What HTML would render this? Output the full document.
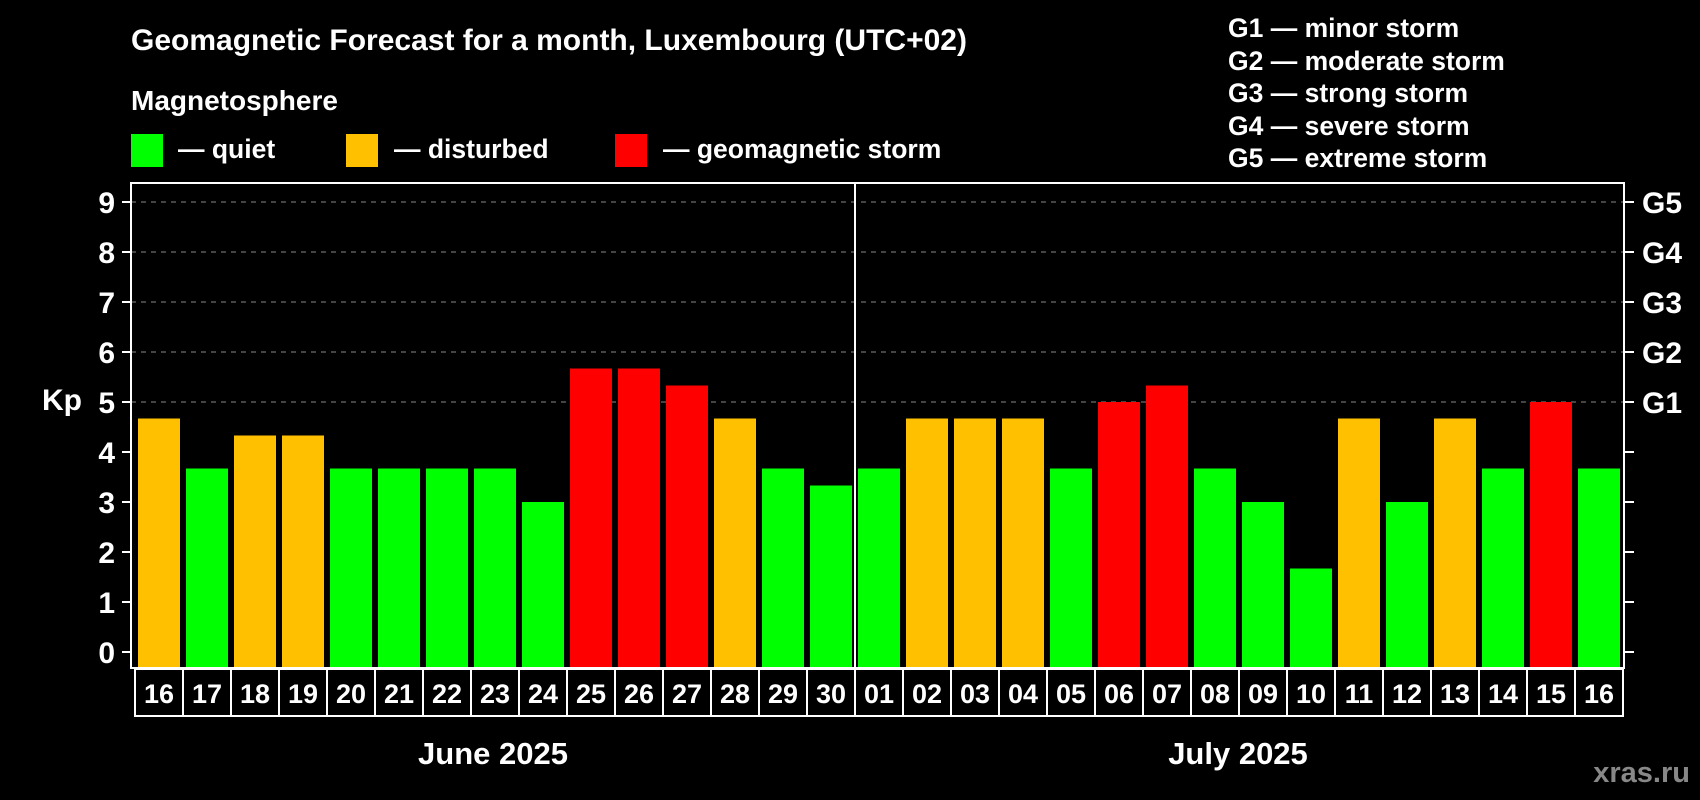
<!DOCTYPE html>
<html><head><meta charset="utf-8"><style>
html,body{margin:0;padding:0;background:#000;}
svg{display:block;font-family:"Liberation Sans",Arial,sans-serif;font-weight:bold;}
</style></head><body>
<svg id="chart" width="1700" height="800" viewBox="0 0 1700 800" xmlns="http://www.w3.org/2000/svg">
<rect width="1700" height="800" fill="#000"/>
<text x="131" y="50" fill="#fff" font-size="30">Geomagnetic Forecast for a month, Luxembourg (UTC+02)</text>
<text x="131" y="110" fill="#fff" font-size="28">Magnetosphere</text>
<g>
<rect x="131" y="134" width="32" height="33" fill="#00ff00"/>
<text x="178" y="158" fill="#fff" font-size="26.5">— quiet</text></g>
<g>
<rect x="346" y="134" width="32" height="33" fill="#ffc000"/>
<text x="394" y="158" fill="#fff" font-size="26.5">— disturbed</text></g>
<g>
<rect x="615" y="134" width="32" height="33" fill="#ff0000"/>
<text x="663" y="158" fill="#fff" font-size="26.5">— geomagnetic storm</text></g>
<g fill="#fff" font-size="26.5">
<text x="1228" y="37">G1 — minor storm</text>
<text x="1228" y="70">G2 — moderate storm</text>
<text x="1228" y="102">G3 — strong storm</text>
<text x="1228" y="135">G4 — severe storm</text>
<text x="1228" y="167">G5 — extreme storm</text>
</g>
<g id="grid"></g>
<g id="bars"></g>
<rect x="131" y="183" width="1493" height="485" fill="none" stroke="#fff" stroke-width="2"/>
<line x1="855" y1="183" x2="855" y2="668" stroke="#fff" stroke-width="2"/>
<g id="axes"></g>
<text x="42" y="410" fill="#fff" font-size="30">Kp</text>
<text x="493" y="764" fill="#fff" font-size="31" text-anchor="middle">June 2025</text>
<text x="1238" y="764" fill="#fff" font-size="31" text-anchor="middle">July 2025</text>
<text x="1690" y="782" fill="#888" font-size="29" text-anchor="end">xras.ru</text>
</svg>
<script>
const days = ["16","17","18","19","20","21","22","23","24","25","26","27","28","29","30","01","02","03","04","05","06","07","08","09","10","11","12","13","14","15","16"];
const kpValues = [4.67,3.67,4.33,4.33,3.67,3.67,3.67,3.67,3,5.67,5.67,5.33,4.67,3.67,3.33,3.67,4.67,4.67,4.67,3.67,5,5.33,3.67,3,1.67,4.67,3,4.67,3.67,5,3.67];
const yTicks = [0,1,2,3,4,5,6,7,8,9];
const gLabels = ["","","","","","G1","G2","G3","G4","G5"];

const NS="http://www.w3.org/2000/svg";
const x0=135, slot=48, y0=652, unit=50;
function xPos(i){return x0+i*slot;}
function yPos(v){return y0-v*unit;}
function color(v){return v>=5?"#ff0000":(v>=4?"#ffc000":"#00ff00");}
function mk(tag,attrs,parent){const e=document.createElementNS(NS,tag);for(const k in attrs)e.setAttribute(k,attrs[k]);parent.appendChild(e);return e;}
const grid=document.getElementById('grid'),bars=document.getElementById('bars'),axes=document.getElementById('axes');
yTicks.forEach((t,i)=>{
  const y=yPos(t);
  if(t>=5){const l=mk('line',{x1:131,x2:1624,y1:y,y2:y,stroke:'#888','stroke-width':1,'stroke-dasharray':'5,5'},grid);
  
  }
  const tl=mk('line',{x1:122,x2:131,y1:y,y2:y,stroke:'#fff','stroke-width':2},axes);
  
  
  const tr=mk('line',{x1:1624,x2:1634,y1:y,y2:y,stroke:'#fff','stroke-width':2},axes);
  
  
  const tx=mk('text',{x:115,y:y+11,fill:'#fff','font-size':30,'text-anchor':'end'},axes);
  tx.textContent=t;
  
  
  if(gLabels[i]){const g=mk('text',{x:1642,y:y+11,fill:'#fff','font-size':30},axes);
  g.textContent=gLabels[i];
  
  }
});
kpValues.forEach((v,i)=>{
  const r=mk('rect',{x:xPos(i)+3,y:yPos(v),width:42,height:667-yPos(v),fill:color(v)},bars);
  
  
  const b=mk('rect',{x:xPos(i),y:669,width:slot,height:47,fill:'#000',stroke:'#fff','stroke-width':2},axes);
  
  
  const t=mk('text',{x:xPos(i)+slot/2,y:703,fill:'#fff','font-size':27,'text-anchor':'middle'},axes);
  t.textContent=days[i];
  
  
});
</script>
</body></html>
